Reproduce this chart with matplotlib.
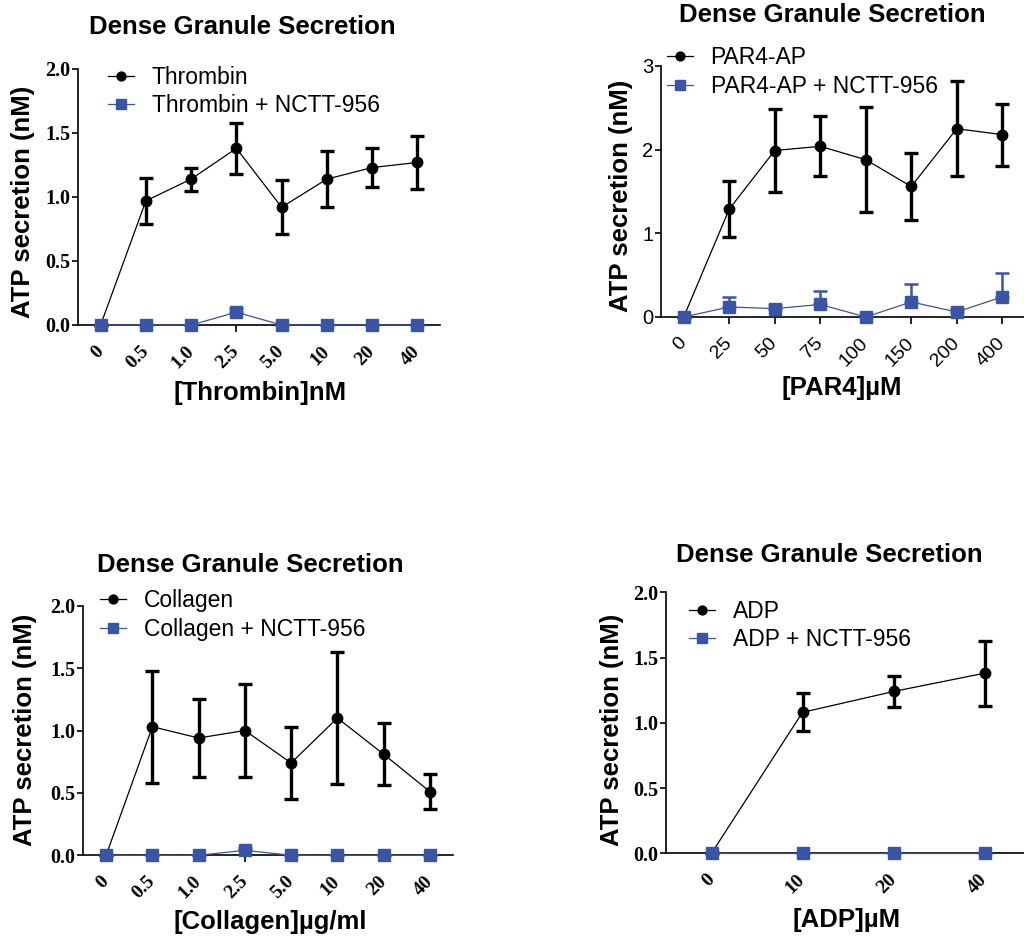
import matplotlib
matplotlib.use("Agg")
import matplotlib.pyplot as plt
import numpy as np

# ---------------- data ----------------
thr_labels = ["0", "0.5", "1.0", "2.5", "5.0", "10", "20", "40"]
thr_mean = [0.0, 0.97, 1.14, 1.38, 0.92, 1.14, 1.23, 1.27]
thr_err = [0.0, 0.18, 0.09, 0.20, 0.21, 0.22, 0.155, 0.21]
thr_nctt_mean = [0.0, 0.0, 0.0, 0.10, 0.0, 0.0, 0.0, 0.0]
thr_nctt_err = [0.0, 0.0, 0.0, 0.03, 0.0, 0.0, 0.0, 0.0]

par_labels = ["0", "25", "50", "75", "100", "150", "200", "400"]
par_mean = [0.0, 1.29, 1.99, 2.04, 1.88, 1.56, 2.25, 2.18]
par_err = [0.0, 0.335, 0.50, 0.36, 0.63, 0.40, 0.57, 0.37]
par_nctt_mean = [0.0, 0.12, 0.10, 0.15, 0.0, 0.18, 0.06, 0.24]
par_nctt_err = [0.0, 0.12, 0.04, 0.16, 0.0, 0.215, 0.04, 0.28]

col_labels = ["0", "0.5", "1.0", "2.5", "5.0", "10", "20", "40"]
col_mean = [0.0, 1.03, 0.94, 1.00, 0.74, 1.10, 0.81, 0.51]
col_err = [0.0, 0.45, 0.31, 0.37, 0.29, 0.53, 0.25, 0.14]
col_nctt_mean = [0.0, 0.0, 0.0, 0.04, 0.0, 0.0, 0.0, 0.0]
col_nctt_err = [0.0, 0.0, 0.0, 0.02, 0.0, 0.0, 0.0, 0.0]

adp_labels = ["0", "10", "20", "40"]
adp_mean = [0.0, 1.08, 1.24, 1.38]
adp_err = [0.0, 0.145, 0.118, 0.25]
adp_nctt_mean = [0.0, 0.0, 0.0, 0.0]
adp_nctt_err = [0.0, 0.0, 0.0, 0.0]

title_text = "Dense Granule Secretion"
ylabel_text = "ATP secretion (nM)"

BLUE = "#3A54A6"
SANS = "Liberation Sans"
SERIF = "Liberation Serif"

fig = plt.figure(figsize=(10.24, 9.40), dpi=100)


def panel(rect, labels, mean, err, nmean, nerr, names, yticks, yticklabels, ymax,
          xlabel, xlab_xy, ylab_xy, title_xy, leg_xy, tickfont, tickweight):
    ax = fig.add_axes(rect)
    x = np.arange(len(labels))
    ax.errorbar(x, mean, yerr=err, fmt="none", ecolor="black", elinewidth=2.4,
                capsize=4.8, capthick=2.4, clip_on=False, zorder=3)
    ax.errorbar(x, nmean, yerr=[np.zeros(len(nerr)), nerr], fmt="none",
                ecolor=BLUE, elinewidth=1.8, capsize=4.8, capthick=1.8,
                clip_on=False, zorder=4)
    l1, = ax.plot(x, mean, "-", color="black", lw=0.9, marker="o", ms=7.5,
                  mfc="black", mec="black", clip_on=False, zorder=5, label=names[0])
    l2, = ax.plot(x, nmean, "-", color=BLUE, lw=0.9, marker="s", ms=8.5,
                  mfc=BLUE, mec=BLUE, clip_on=False, zorder=6, label=names[1])
    ax.set_xlim(-0.5, len(labels) - 0.5)
    ax.set_ylim(0, ymax)
    for s in ["top", "right"]:
        ax.spines[s].set_visible(False)
    for s in ["left", "bottom"]:
        ax.spines[s].set_linewidth(1.2)
    ax.set_yticks(yticks)
    ax.set_yticklabels(yticklabels, fontfamily=tickfont, fontweight=tickweight,
                       fontsize=14.5)
    ax.set_xticks(x)
    ax.set_xticklabels(labels, fontfamily=tickfont, fontweight=tickweight,
                       fontsize=14, rotation=45, ha="right", va="center",
                       rotation_mode="anchor")
    ax.tick_params(axis="y", direction="out", length=4, width=1.2, pad=1.5)
    ax.tick_params(axis="x", direction="out", length=5, width=1.2, pad=12)
    ax.set_xlabel(xlabel, fontfamily=SANS, fontweight="bold", fontsize=18.5)
    ax.xaxis.set_label_coords(*xlab_xy)
    ax.xaxis.label.set_va("center")
    ax.set_ylabel(ylabel_text, fontfamily=SANS, fontweight="bold", fontsize=18.5)
    ax.yaxis.set_label_coords(*ylab_xy)
    ax.yaxis.label.set_va("center")
    fig.text(title_xy[0], title_xy[1], title_text, fontfamily=SANS,
             fontweight="bold", fontsize=18.5, ha="center", va="center")
    fig.legend(handles=[l1, l2], loc="center left",
               bbox_to_anchor=(leg_xy[0] / 1024, 1 - leg_xy[1] / 940),
               frameon=False, prop={"family": SANS, "size": 16.5},
               handlelength=1.15, handletextpad=0.75, labelspacing=0.25,
               borderpad=0, borderaxespad=0, markerscale=0.85)
    return ax


panel([78 / 1024, 1 - 325 / 940, 362 / 1024, 256 / 940],
      thr_labels, thr_mean, thr_err, thr_nctt_mean, thr_nctt_err,
      ["Thrombin", "Thrombin + NCTT-956"],
      [0, 0.5, 1.0, 1.5, 2.0], ["0.0", "0.5", "1.0", "1.5", "2.0"], 2.0,
      "[Thrombin]nM", (0.503, -0.266), (-0.152, 0.482), (242 / 1024, 1 - 27 / 940),
      (108, 91.5), SERIF, "bold")

panel([661 / 1024, 1 - 317 / 940, 364 / 1024, 251 / 940],
      par_labels, par_mean, par_err, par_nctt_mean, par_nctt_err,
      ["PAR4-AP", "PAR4-AP + NCTT-956"],
      [0, 1, 2, 3], ["0", "1", "2", "3"], 3.0,
      "[PAR4]\u00b5M", (0.497, -0.283), (-0.11, 0.482), (832 / 1024, 1 - 15 / 940),
      (667, 72), SANS, "normal")

panel([83 / 1024, 1 - 855.3 / 940, 370 / 1024, 249.6 / 940],
      col_labels, col_mean, col_err, col_nctt_mean, col_nctt_err,
      ["Collagen", "Collagen + NCTT-956"],
      [0, 0.5, 1.0, 1.5, 2.0], ["0.0", "0.5", "1.0", "1.5", "2.0"], 2.0,
      "[Collagen]\u00b5g/ml", (0.505, -0.266), (-0.157, 0.502), (250 / 1024, 1 - 565 / 940),
      (100, 615), SERIF, "bold")

panel([666 / 1024, 1 - 853.3 / 940, 364 / 1024, 261 / 940],
      adp_labels, adp_mean, adp_err, adp_nctt_mean, adp_nctt_err,
      ["ADP", "ADP + NCTT-956"],
      [0, 0.5, 1.0, 1.5, 2.0], ["0.0", "0.5", "1.0", "1.5", "2.0"], 2.0,
      "[ADP]\u00b5M", (0.497, -0.256), (-0.148, 0.472), (829.5 / 1024, 1 - 555 / 940),
      (689, 625.5), SERIF, "bold")

fig.savefig("out.png", dpi=100)
